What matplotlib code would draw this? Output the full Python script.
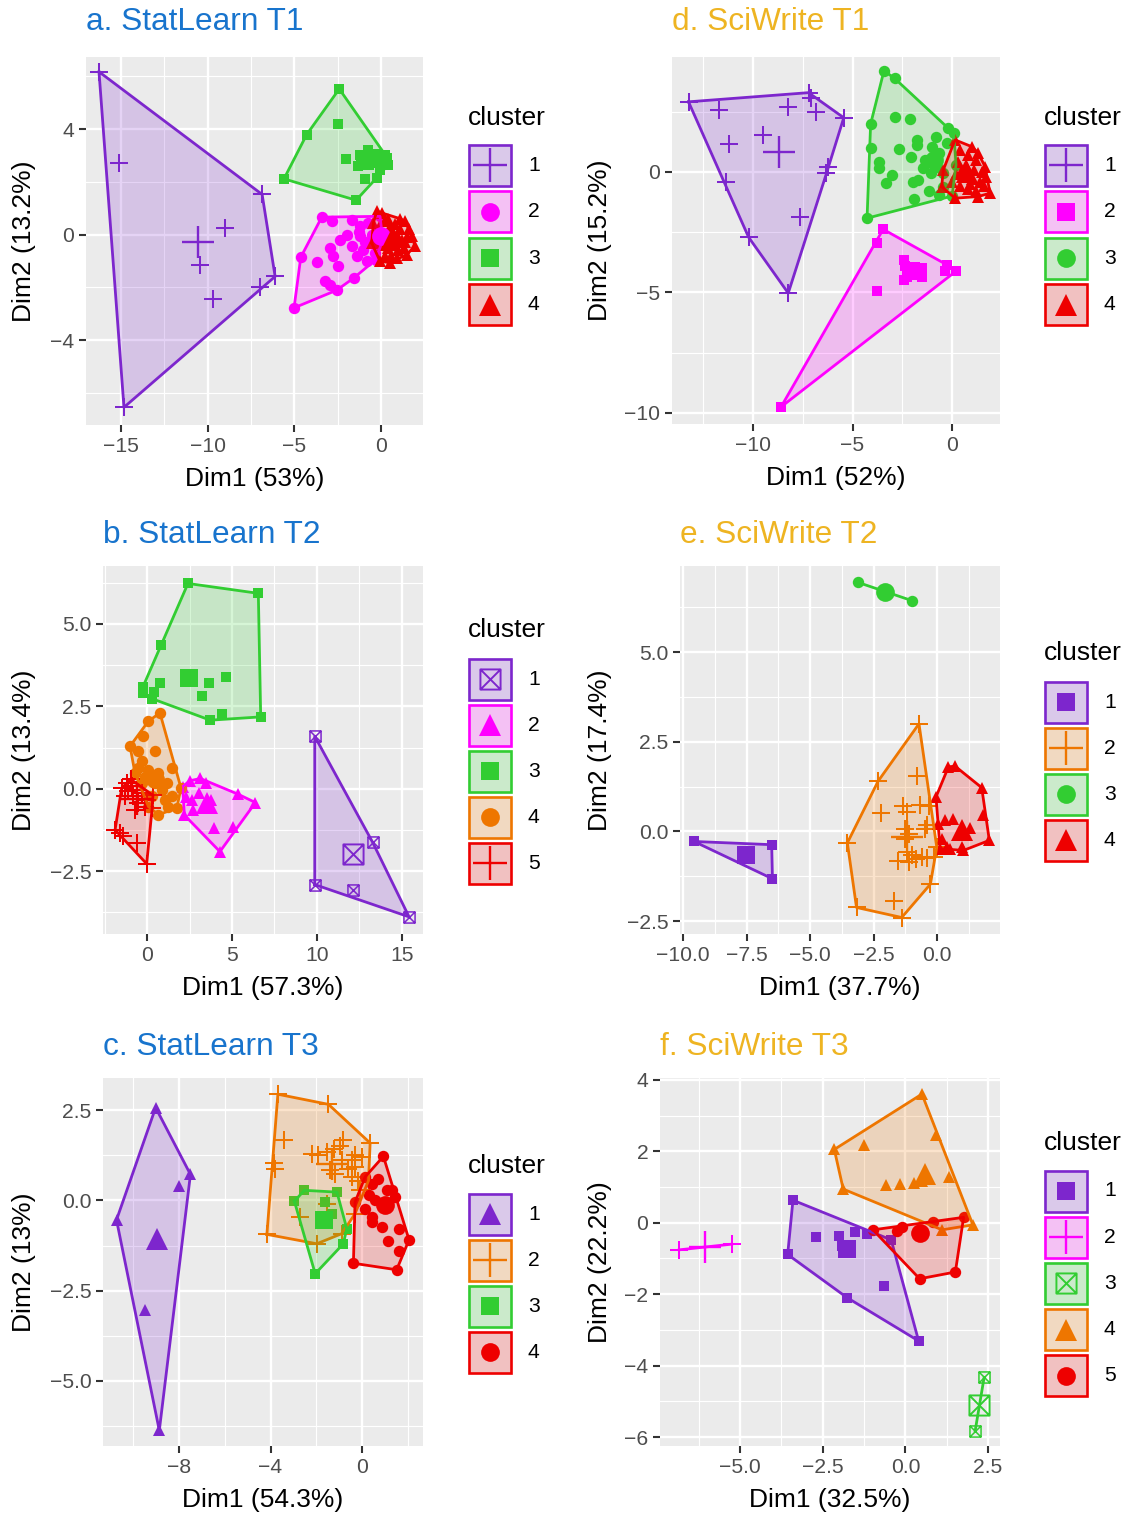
import matplotlib
matplotlib.use("Agg")
import matplotlib.pyplot as plt
from matplotlib.path import Path
from matplotlib.patches import Rectangle
from matplotlib.colors import to_rgba

plt.rcParams['font.family'] = ['Liberation Sans', 'DejaVu Sans']

# ---------------- colours ----------------
PURPLE = '#7D26CD'
MAGENTA = '#FF00FF'
GREEN = '#32CD32'
RED = '#EE0000'
ORANGE = '#EE7600'
BLUE_T = '#1874CD'
GOLD_T = '#EEB422'

# ---------------- data: a. StatLearn T1 ----------------
A1_X = [-16.27, -15.1, -6.86, -6.11, -7.0, -14.83, -9.0, -10.44, -9.7]
A1_Y = [6.17, 2.73, 1.52, -1.59, -1.97, -6.55, 0.23, -1.17, -2.46]
A2_X = [-3.42, -2.85, -1.69, -0.06, -4.63, -5.02, -2.56, -1.56, -3.23, -2.94, -3.67, -2.94, -2.75, -2.46,
        -2.37, -1.98, -1.69, -1.40, -1.21, -1.02, -0.83, -0.63, -0.35, -1.21, -0.73, -0.25, -0.5, -0.2,
        0.1, -0.9, -1.3, -0.3]
A2_Y = [0.66, 0.51, 0.57, 0.69, -0.86, -2.78, -2.11, -1.64, -1.77, -1.90, -1.05, -0.50, -0.82, -1.20,
        -0.19, 0.0, -0.44, -0.82, -0.06, -0.57, -1.01, -0.32, -0.69, 0.31, 0.44, 0.19, 0.0, -0.4,
        -0.2, -0.3, 0.1, -0.95]
A3_X = [-2.41, -2.46, -4.29, -5.60, -1.44, -2.02, -0.92, -0.25, -0.73, -1.21, -1.31, 0.33, 0.42, -0.06,
        -0.44, -0.06, -0.83, -0.25, 0.23]
A3_Y = [5.52, 4.20, 3.79, 2.11, 1.30, 2.88, 2.09, 2.15, 3.22, 3.03, 2.59, 2.91, 2.65, 2.84,
        2.72, 2.46, 2.84, 3.07, 3.03]
A4_X = [-0.25, 0.04, 1.38, 1.77, 1.96, 1.48, 0.52, -0.06, -0.54, -0.44, 0.2, 0.5, 0.8, 1.1, 0.3, 0.6, 0.9,
        1.2, 1.5, 0.1, 0.4, 0.7, 1.0, 1.3, 0.2, 0.6, 0.9, -0.2, -0.1, 1.6, 1.1, 0.8, 0.4, 1.4]
A4_Y = [0.88, 0.82, 0.50, -0.06, -0.44, -0.76, -1.07, -1.01, -0.32, 0.44, 0.5, 0.3, 0.4, 0.2, 0.0, -0.1, 0.0,
        -0.2, -0.1, -0.4, -0.5, -0.4, -0.6, -0.5, -0.8, -0.8, -0.9, -0.3, 0.3, 0.2, 0.6, -0.2, 0.6, -0.3]
A_CX = [-10.56, 0.0, -0.9, 0.7]
A_CY = [-0.3, -0.05, 2.8, -0.1]

# ---------------- data: d. SciWrite T1 ----------------
D1_X = [-13.24, -7.21, -7.1, -5.44, -11.71, -8.23, -6.85, -9.5, -11.23, -6.22, -6.31, -11.35, -7.62, -10.22, -8.23]
D1_Y = [2.91, 3.29, 3.05, 2.25, 2.57, 2.71, 2.47, 1.53, 1.16, 0.22, -0.06, -0.4, -1.85, -2.71, -5.03]
D2_X = [-3.46, -3.77, -3.77, -8.59, -2.43, -2.34, -2.25, -1.98, -1.53, -1.53, -2.43, -0.27, -0.36, 0.18]
D2_Y = [-2.38, -2.93, -4.92, -9.75, -3.67, -3.92, -4.34, -4.13, -3.99, -4.34, -4.48, -3.85, -4.13, -4.13]
D3_X = [-3.42, -2.88, -4.09, -2.88, -2.11, -0.22, -4.09, -2.67, -1.75, -1.75, -3.69, -3.69, -3.01, -3.33,
        -2.07, -1.98, -1.71, -1.17, -1.89, -0.81, -0.99, -0.63, -1.35, -0.81, -0.45, -0.45, -1.08, -1.44,
        -0.27, -4.27, -0.63, 0.09, 0.2, 0.0]
D3_Y = [4.2, 3.88, 1.99, 2.29, 2.18, 1.81, 1.01, 0.95, 1.33, 1.12, 0.43, 0.15, -0.12, -0.44,
        0.64, -0.40, -0.33, -0.81, -1.13, 1.46, 1.05, 0.77, 0.50, 0.22, -0.06, -0.61, -0.06, 0.15,
        1.19, -1.92, -0.95, 1.6, 0.3, -1.0]
D4_X = [0.15, 0.99, 1.66, 1.91, 1.32, 0.15, -0.52, -0.44, 0.4, 0.8, 1.2, 0.3, 0.7, 1.1, 1.5, 0.2, 0.6, 1.0,
        1.4, 0.4, 0.8, 1.2, 1.6, 0.0, 1.3, 0.5, 0.9, 1.7]
D4_Y = [1.33, 1.05, 0.22, -0.88, -1.02, -1.09, -0.61, 0.08, 0.9, 0.7, 0.5, 0.4, 0.3, 0.1, 0.0, -0.1, -0.2, -0.3,
        -0.4, -0.6, -0.7, -0.8, -0.6, -0.4, 0.8, 0.1, -0.5, -0.2]
D_CX = [-8.68, -2.07, -0.9, 0.75]
D_CY = [0.83, -4.13, 0.5, 0.0]

# ---------------- data: b. StatLearn T2 ----------------
B1_X = [9.87, 13.28, 15.42, 9.87, 12.13]
B1_Y = [1.59, -1.63, -3.89, -2.91, -3.06]
B2_X = [2.09, 2.51, 3.14, 3.45, 5.33, 6.38, 5.08, 3.97, 4.29, 2.2, 2.3, 2.62, 2.72, 3.77, 3.03]
B2_Y = [0.06, 0.24, 0.31, 0.18, -0.16, -0.42, -1.15, -1.2, -1.91, -0.8, -0.24, -0.34, -0.65, -0.34, -0.14]
B3_X = [2.41, 6.55, 6.69, 3.72, 4.43, 0.84, -0.25, -0.21, 0.42, 0.77, 0.31, 3.62, 4.64, 3.24]
B3_Y = [6.23, 5.93, 2.18, 2.08, 2.26, 4.35, 3.08, 2.90, 2.93, 3.22, 2.73, 3.21, 3.39, 2.82]
B4_X = [0.76, 0.08, -0.22, -1.0, -0.51, 0.47, -0.31, 1.45, -0.71, 0.08, 0.67, -0.31, 0.47, 1.16, 2.0, 1.75,
        0.67, 1.06, 0.27, 0.08, 1.45, 0.86, -0.12, 1.25, -0.51]
B4_Y = [2.30, 2.05, 1.59, 1.29, 1.13, 1.13, 0.83, 0.63, 0.48, 0.58, 0.48, 0.17, 0.17, 0.17, 0.02, -0.59,
        -0.79, -0.33, -0.23, -0.54, -0.23, -0.03, 0.37, -0.54, 0.63]
B5_X = [-1.49, -1.19, -0.9, -0.61, -0.31, -0.02, -0.51, -0.8, -0.12, -1.1, -1.29, -0.71, -1.88, -1.59, -1.39,
        -0.61, -0.02, 0.35, 0.3, -0.94]
B5_Y = [0.02, 0.17, 0.07, -0.03, -0.13, -0.33, -0.43, -0.23, -0.54, -0.08, -0.23, -0.64, -1.25, -1.35, -1.45,
        -1.65, -2.28, -0.2, -0.6, 0.28]
B_CX = [12.13, 3.51, 2.45, 0.45, -0.6]
B_CY = [-1.99, -0.44, 3.36, 0.3, -0.3]

# ---------------- data: e. SciWrite T2 ----------------
E1_X = [-9.57, -6.51, -6.48]
E1_Y = [-0.28, -0.37, -1.32]
E2_X = [-0.71, -2.32, -3.53, -3.17, -1.39, -0.26, -0.11, -0.8, -2.2, -1.35, -1.18, -0.68, -0.3, -1.25, -1.11,
        -1.25, -0.47, -0.4, -1.54, -1.11, -0.83, -0.61, -0.4, -0.97, -1.68, -1.18, -0.01]
E2_Y = [3.0, 1.40, -0.32, -2.12, -2.4, -1.47, -0.71, 1.54, 0.52, 0.7, 0.54, 0.75, 0.72, 0.07, -0.06,
        -0.2, 0.07, 0.17, -0.83, -0.85, -0.76, -0.71, -0.73, -0.67, -1.93, -0.58, -0.44]
E3_X = [-3.1, -0.97]
E3_Y = [6.94, 6.43]
E4_X = [0.45, 0.71, 1.76, 1.82, 2.06, 1.04, 0.51, 0.12, -0.04, 0.31, 0.64, 0.97, 0.38, 0.05, 0.2, 1.3]
E4_Y = [1.80, 1.82, 1.22, 0.45, -0.25, -0.53, -0.48, -0.48, 0.96, 0.31, 0.35, -0.44, -0.44, 0.21, -0.2, 0.1]
E_CX = [-7.51, -1.2, -2.03, 0.97]
E_CY = [-0.67, -0.15, 6.68, 0.03]

# ---------------- data: c. StatLearn T3 ----------------
C1_X = [-9.02, -7.5, -8.02, -10.73, -9.48, -8.86]
C1_Y = [2.57, 0.72, 0.39, -0.54, -3.03, -6.37]
C2_X = [-3.68, -1.47, 0.35, -4.16, -1.98, -3.43, -3.87, -3.8, -2.2, -1.91, -1.54, -1.25, -0.82, -0.96, -1.40,
        -0.89, -0.45, -0.31, -0.01, -0.6, -0.31, -1.18, -0.45, -0.16, -0.09, -1.54, -2.71, -0.31, -0.89, 0.28]
C2_Y = [2.94, 2.66, 1.59, -0.94, -1.2, 1.66, 1.03, 0.88, 1.29, 1.25, 1.34, 1.43, 1.66, 1.52, 0.83,
        1.11, 1.11, 1.25, 1.2, 0.88, 0.92, 0.74, 0.65, 0.55, 0.28, -0.09, -0.46, -0.37, -0.92, 0.55]
C3_X = [-2.52, -1.1, -2.96, -0.82, -0.67, -2.05, -1.32, -1.62]
C3_Y = [0.28, 0.23, -0.02, -1.2, -0.78, -2.03, -0.37, -0.05]
C4_X = [0.93, 1.44, 2.05, 1.51, -0.38, -0.31, 0.13, 0.42, 0.71, 1.08, 0.28, 0.57, 0.13, 0.42, 0.86, 0.42,
        1.59, 1.15, 1.59, 1.3]
C4_Y = [1.22, 0.09, -1.09, -1.92, -1.74, -0.05, 0.65, 0.46, 0.6, 0.28, 0.14, 0.0, -0.23, -0.46, -0.74, -0.6,
        -0.78, -1.11, -1.39, 0.3]
C_CX = [-8.95, -1.3, -1.65, 1.0]
C_CY = [-1.06, 1.0, -0.53, -0.14]

# ---------------- data: f. SciWrite T3 ----------------
F1_X = [-3.4, -3.56, -1.76, 0.4, -0.43, -1.16, -1.51, -2.01, -2.69, -0.66, -1.91, -1.66]
F1_Y = [0.63, -0.89, -2.1, -3.31, -0.48, -0.31, -0.27, -0.36, -0.39, -1.78, -0.64, -0.73]
F2_X = [-6.84, -5.25]
F2_Y = [-0.76, -0.6]
F3_X = [2.38, 2.11]
F3_Y = [-4.33, -5.82]
F4_X = [0.5, -2.15, -1.24, 0.91, -1.88, -0.6, -0.15, 0.25, 0.5, 1.31, 2.04, 1.11]
F4_Y = [3.6, 2.05, 2.17, 2.45, 0.94, 1.06, 1.08, 1.12, 1.17, 1.28, -0.06, -0.2]
F5_X = [-0.98, -0.25, -0.1, 0.84, 1.76, 1.51, 0.43]
F5_Y = [-0.2, -0.22, -0.13, 0.01, 0.15, -1.38, -1.57]
F_CX = [-1.78, -6.05, 2.22, 0.6, 0.45]
F_CY = [-0.73, -0.69, -5.09, 1.36, -0.3]

# ---------------- tick labels ----------------
A_XT = [-15, -10, -5, 0];  A_XL = ['\u221215', '\u221210', '\u22125', '0']
A_YT = [-4, 0, 4];         A_YL = ['\u22124', '0', '4']
D_XT = [-10, -5, 0];       D_XL = ['\u221210', '\u22125', '0']
D_YT = [-10, -5, 0];       D_YL = ['\u221210', '\u22125', '0']
B_XT = [0, 5, 10, 15];     B_XL = ['0', '5', '10', '15']
B_YT = [-2.5, 0, 2.5, 5];  B_YL = ['\u22122.5', '0.0', '2.5', '5.0']
E_XT = [-10, -7.5, -5, -2.5, 0]; E_XL = ['\u221210.0', '\u22127.5', '\u22125.0', '\u22122.5', '0.0']
E_YT = [-2.5, 0, 2.5, 5];  E_YL = ['\u22122.5', '0.0', '2.5', '5.0']
C_XT = [-8, -4, 0];        C_XL = ['\u22128', '\u22124', '0']
C_YT = [-5, -2.5, 0, 2.5]; C_YL = ['\u22125.0', '\u22122.5', '0.0', '2.5']
F_XT = [-5, -2.5, 0, 2.5]; F_XL = ['\u22125.0', '\u22122.5', '0.0', '2.5']
F_YT = [-6, -4, -2, 0, 2, 4]; F_YL = ['\u22126', '\u22124', '\u22122', '0', '2', '4']

# ---------------- figure ----------------
W, H = 1128, 1517
fig = plt.figure(figsize=(W / 100, H / 100), dpi=100)

BOXX = Path([(-1, -1), (1, -1), (1, 1), (-1, 1), (-1, -1), (-1, -1), (1, 1), (-1, 1), (1, -1)],
            [Path.MOVETO, Path.LINETO, Path.LINETO, Path.LINETO, Path.CLOSEPOLY,
             Path.MOVETO, Path.LINETO, Path.MOVETO, Path.LINETO])

SHAPES = {
    'circle':   dict(m='o', small=8.2, big=13.5, leg=13.5, open=False),
    'square':   dict(m='s', small=7.2, big=12.5, leg=12.5, open=False),
    'triangle': dict(m='^', small=9.2, big=16.5, leg=16.5, open=False),
    'plus':     dict(m='+', small=12.5, big=23.0, leg=24.0, open=True, mew=1.45, mewb=1.7),
    'boxx':     dict(m=BOXX, small=8.0, big=14.5, leg=14.5, open=True, mew=1.1, mewb=1.4),
}


def draw_marks(ax, xs, ys, shape, color, kind='small', z=3):
    s = SHAPES[shape]
    ms = s[kind]
    if s['open']:
        ax.plot(xs, ys, linestyle='none', marker=s['m'], ms=ms, color=color, mfc='none',
                mew=s['mew'] if kind == 'small' else s['mewb'], zorder=z)
    else:
        ax.plot(xs, ys, linestyle='none', marker=s['m'], ms=ms, color=color, mfc=color,
                mew=0, zorder=z)


def convex_hull(xs, ys):
    pts = sorted(set(zip(xs, ys)))
    if len(pts) <= 2:
        return pts

    def cross(o, a, b):
        return (a[0] - o[0]) * (b[1] - o[1]) - (a[1] - o[1]) * (b[0] - o[0])
    lower, upper = [], []
    for p in pts:
        while len(lower) >= 2 and cross(lower[-2], lower[-1], p) <= 0:
            lower.pop()
        lower.append(p)
    for p in reversed(pts):
        while len(upper) >= 2 and cross(upper[-2], upper[-1], p) <= 0:
            upper.pop()
        upper.append(p)
    return lower[:-1] + upper[:-1]


def px_rect(x0, y0, x1, y1):
    return [x0 / W, 1 - y1 / H, (x1 - x0) / W, (y1 - y0) / H]


PANELS = [
    dict(title='a. StatLearn T1', tcol=BLUE_T, box=(86, 57, 423, 425), xlim=(-17.02, 2.42), ylim=(-7.22, 6.73),
         xt=A_XT, xl=A_XL, yt=A_YT, yl=A_YL, xmin=[-12.5, -7.5, -2.5], ymin=[-6, -2, 2, 6],
         xlab='Dim1 (53%)', ylab='Dim2 (13.2%)', ylx=24, toff=35,
         clusters=[(A1_X, A1_Y, PURPLE, 'plus'), (A2_X, A2_Y, MAGENTA, 'circle'),
                   (A3_X, A3_Y, GREEN, 'square'), (A4_X, A4_Y, RED, 'triangle')],
         cx=A_CX, cy=A_CY, leg=(468, 118, 165, 46.6)),
    dict(title='d. SciWrite T1', tcol=GOLD_T, box=(672, 57, 1000, 424), xlim=(-14.07, 2.41), ylim=(-10.46, 4.77),
         xt=D_XT, xl=D_XL, yt=D_YT, yl=D_YL, xmin=[-12.5, -7.5, -2.5], ymin=[-7.5, -2.5, 2.5],
         xlab='Dim1 (52%)', ylab='Dim2 (15.2%)', ylx=600, toff=35,
         clusters=[(D1_X, D1_Y, PURPLE, 'plus'), (D2_X, D2_Y, MAGENTA, 'square'),
                   (D3_X, D3_Y, GREEN, 'circle'), (D4_X, D4_Y, RED, 'triangle')],
         cx=D_CX, cy=D_CY, leg=(1044, 118, 165, 46.6)),
    dict(title='b. StatLearn T2', tcol=BLUE_T, box=(103, 566, 423, 934), xlim=(-2.59, 16.24), ylim=(-4.41, 6.76),
         xt=B_XT, xl=B_XL, yt=B_YT, yl=B_YL, xmin=[-2.5, 2.5, 7.5, 12.5], ymin=[-3.75, -1.25, 1.25, 3.75, 6.25],
         xlab='Dim1 (57.3%)', ylab='Dim2 (13.4%)', ylx=24, toff=31,
         clusters=[(B1_X, B1_Y, PURPLE, 'boxx'), (B2_X, B2_Y, MAGENTA, 'triangle'),
                   (B3_X, B3_Y, GREEN, 'square'), (B4_X, B4_Y, ORANGE, 'circle'),
                   (B5_X, B5_Y, RED, 'plus')],
         cx=B_CX, cy=B_CY, leg=(468, 630, 679, 46.0)),
    dict(title='e. SciWrite T2', tcol=GOLD_T, box=(680, 566, 1000, 934), xlim=(-10.12, 2.48), ylim=(-2.86, 7.4),
         xt=E_XT, xl=E_XL, yt=E_YT, yl=E_YL, xmin=[-8.75, -6.25, -3.75, -1.25, 1.25],
         ymin=[-1.25, 1.25, 3.75, 6.25],
         xlab='Dim1 (37.7%)', ylab='Dim2 (17.4%)', ylx=600, toff=31,
         clusters=[(E1_X, E1_Y, PURPLE, 'square'), (E2_X, E2_Y, ORANGE, 'plus'),
                   (E3_X, E3_Y, GREEN, 'circle'), (E4_X, E4_Y, RED, 'triangle')],
         cx=E_CX, cy=E_CY, leg=(1044, 653, 702, 46.0)),
    dict(title='c. StatLearn T3', tcol=BLUE_T, box=(103, 1078, 423, 1446), xlim=(-11.32, 2.66), ylim=(-6.8, 3.39),
         xt=C_XT, xl=C_XL, yt=C_YT, yl=C_YL, xmin=[-10, -6, -2, 2], ymin=[-6.25, -3.75, -1.25, 1.25],
         xlab='Dim1 (54.3%)', ylab='Dim2 (13%)', ylx=24, toff=31,
         clusters=[(C1_X, C1_Y, PURPLE, 'triangle'), (C2_X, C2_Y, ORANGE, 'plus'),
                   (C3_X, C3_Y, GREEN, 'square'), (C4_X, C4_Y, RED, 'circle')],
         cx=C_CX, cy=C_CY, leg=(468, 1166, 1214, 46.0)),
    dict(title='f. SciWrite T3', tcol=GOLD_T, box=(660, 1078, 1000, 1446), xlim=(-7.42, 2.86), ylim=(-6.25, 4.05),
         xt=F_XT, xl=F_XL, yt=F_YT, yl=F_YL, xmin=[-6.25, -3.75, -1.25, 1.25], ymin=[-5, -3, -1, 1, 3],
         xlab='Dim1 (32.5%)', ylab='Dim2 (22.2%)', ylx=600, toff=31,
         clusters=[(F1_X, F1_Y, PURPLE, 'square'), (F2_X, F2_Y, MAGENTA, 'plus'),
                   (F3_X, F3_Y, GREEN, 'boxx'), (F4_X, F4_Y, ORANGE, 'triangle'),
                   (F5_X, F5_Y, RED, 'circle')],
         cx=F_CX, cy=F_CY, leg=(1044, 1143, 1191, 46.2)),
]

ov = fig.add_axes([0, 0, 1, 1], zorder=10)
ov.set_xlim(0, W)
ov.set_ylim(H, 0)
ov.axis('off')
ov.patch.set_alpha(0)

BASE = 19
for P in PANELS:
    x0, y0, x1, y1 = P['box']
    ax = fig.add_axes(px_rect(x0, y0, x1, y1))
    ax.set_facecolor('#EBEBEB')
    for sp in ax.spines.values():
        sp.set_visible(False)
    ax.set_xlim(*P['xlim'])
    ax.set_ylim(*P['ylim'])
    ax.set_xticks(P['xt'])
    ax.set_xticklabels(P['xl'])
    ax.set_yticks(P['yt'])
    ax.set_yticklabels(P['yl'])
    ax.set_xticks(P['xmin'], minor=True)
    ax.set_yticks(P['ymin'], minor=True)
    ax.tick_params(which='major', length=4.8, width=1.5, color='#333333', labelcolor='#4D4D4D',
                   labelsize=BASE * 0.8, pad=3.5)
    ax.tick_params(which='minor', length=0)
    ax.grid(which='major', color='white', lw=1.7)
    ax.grid(which='minor', color='white', lw=0.85)
    ax.set_axisbelow(True)

    # points
    for (xs, ys, col, shp) in P['clusters']:
        draw_marks(ax, xs, ys, shp, col, 'small', z=3)
    # convex hulls
    for (xs, ys, col, shp) in P['clusters']:
        hp = convex_hull(xs, ys)
        hx = [p[0] for p in hp]
        hy = [p[1] for p in hp]
        if len(hp) >= 3:
            ax.fill(hx, hy, facecolor=to_rgba(col, 0.2), edgecolor='none', zorder=4)
            ax.plot(hx + hx[:1], hy + hy[:1], color=col, lw=2.0, zorder=4, solid_joinstyle='round')
        else:
            ax.plot(hx, hy, color=col, lw=2.0, zorder=4)
    # centroids
    for i, (xs, ys, col, shp) in enumerate(P['clusters']):
        draw_marks(ax, [P['cx'][i]], [P['cy'][i]], shp, col, 'big', z=5)

    # titles and axis labels
    ov.text(x0, y0 - P['toff'], P['title'], color=P['tcol'], fontsize=BASE * 1.2, ha='left', va='center')
    ov.text((x0 + x1) / 2, y1 + 54, P['xlab'], color='black', fontsize=BASE, ha='center', va='center')
    ov.text(P['ylx'], (y0 + y1) / 2, P['ylab'], color='black', fontsize=BASE, ha='center', va='center',
            rotation=90)

    # legend
    lx, ty, k0, sp = P['leg']
    ov.text(lx, ty, 'cluster', fontsize=BASE, ha='left', va='center', color='black')
    for i, (xs, ys, col, shp) in enumerate(P['clusters']):
        yc = k0 + i * sp
        ov.add_patch(Rectangle((lx, yc - 21.5), 44, 43, facecolor='#F2F2F2', edgecolor='none'))
        ov.add_patch(Rectangle((lx + 1, yc - 20.5), 42, 41, facecolor=to_rgba(col, 0.2),
                               edgecolor=col, lw=1.9))
        draw_marks(ov, [lx + 22], [yc], shp, col, 'leg', z=12)
        ov.text(lx + 60, yc, str(i + 1), fontsize=BASE * 0.8, ha='left', va='center', color='black')

fig.savefig('out.png', dpi=100)
